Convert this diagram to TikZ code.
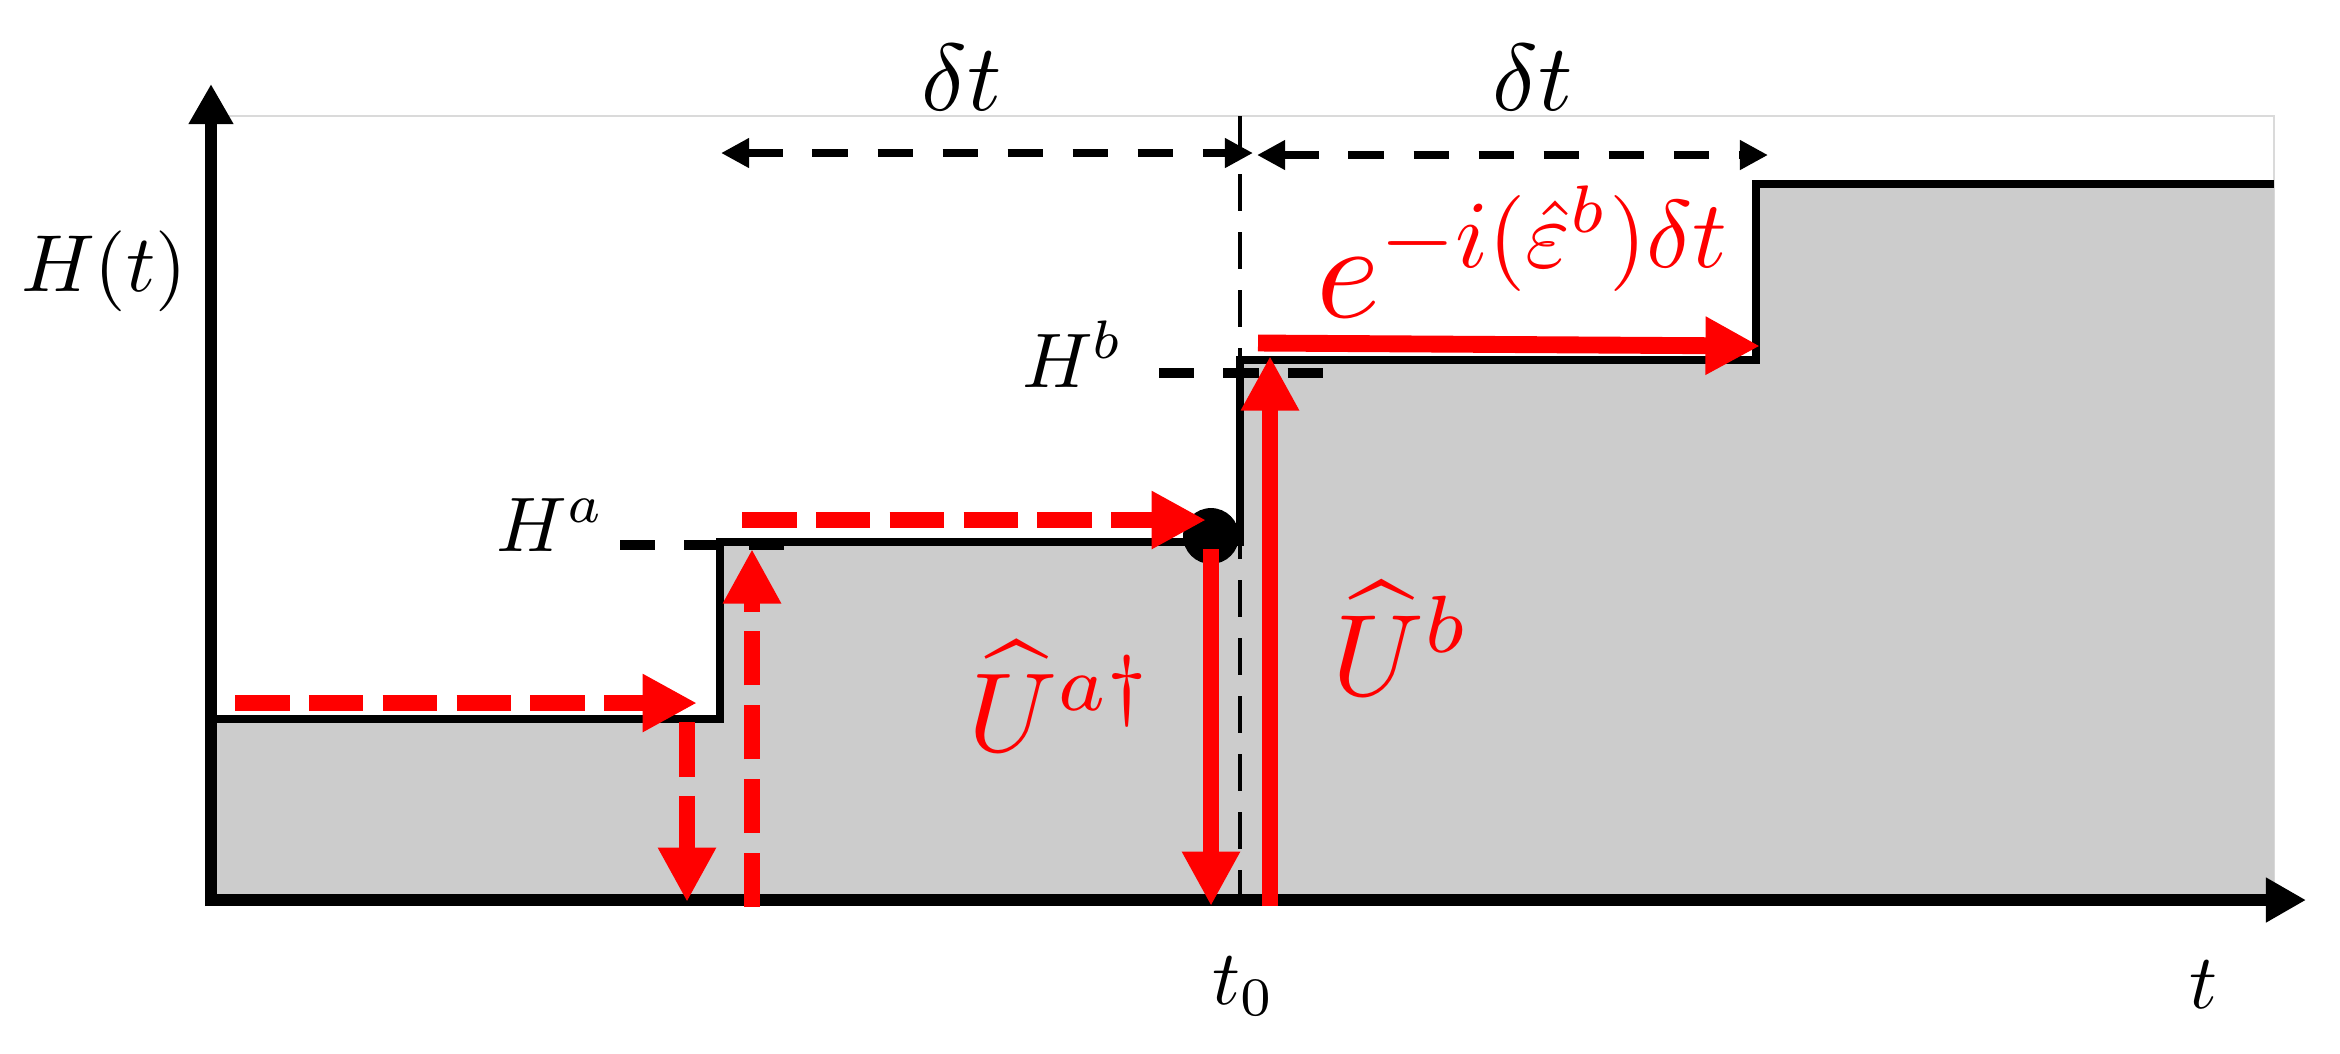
\documentclass[tikz,border=0pt]{standalone}
\usepackage{graphicx}
\usetikzlibrary{arrows.meta}
\definecolor{fillgray}{RGB}{204,204,204}
\definecolor{framegray}{RGB}{218,218,218}
\begin{document}
\begin{tikzpicture}[x=0.01cm,y=-0.01cm,
  redarr/.style={draw=red, line width=4.8pt, -{Triangle[length=15.5pt,width=15.5pt]}},
  reddash/.style={redarr, dash pattern=on 15.5pt off 5.5pt},
  blackdim/.style={line width=2.3pt, dash pattern=on 10pt off 8.5pt,
     {Triangle[length=8pt,width=8pt]}-{Triangle[length=8pt,width=8pt]}},
  leveldash/.style={line width=2.7pt, dash pattern=on 10pt off 8.3pt},
  axis/.style={line width=3.5pt, -{Triangle[length=11.4pt,width=12pt]}},
  lbl/.style={inner sep=0pt, anchor=base},
  redlbl/.style={lbl, text=red},
]
\useasboundingbox (0,0) rectangle (2340,1053);
% frame
\draw[framegray, line width=0.6pt] (211,116) -- (2274,116) -- (2274,900);
% staircase
\coordinate (s0) at (211,719);
\coordinate (s1) at (720,719);
\coordinate (s2) at (720,542);
\coordinate (s3) at (1240,542);
\coordinate (s4) at (1240,360);
\coordinate (s5) at (1756,360);
\coordinate (s6) at (1756,184);
\coordinate (s7) at (2274,184);
\coordinate (s8) at (2274,900);
\coordinate (s9) at (211,900);
\fill[fillgray] (s0) -- (s1) -- (s2) -- (s3) -- (s4) -- (s5) -- (s6) -- (s7) -- (s8) -- (s9) -- cycle;
\draw[line width=2.4pt, line join=miter] (s0) -- (s1) -- (s2) -- (s3) -- (s4) -- (s5) -- (s6) -- (s7);
% t0 guide line
\coordinate (g1) at (1240,116);
\coordinate (g2) at (1240,900);
\draw[line width=1.1pt, dash pattern=on 10.5pt off 6pt] (g1) -- (g2);
% axes
\coordinate (ya) at (211,906);
\coordinate (yb) at (211,84);
\coordinate (xa) at (205,900);
\coordinate (xb) at (2306,900);
\draw[axis] (ya) -- (yb);
\draw[axis] (xa) -- (xb);
% level dashes
\coordinate (ha1) at (620,545);
\coordinate (ha2) at (784,545);
\coordinate (hb1) at (1159,373);
\coordinate (hb2) at (1325,373);
\draw[leveldash] (ha1) -- (ha2);
\draw[leveldash] (hb1) -- (hb2);
% delta t dimension arrows
\coordinate (d1) at (721,153);
\coordinate (d2) at (1253,153);
\coordinate (d3) at (1257,155);
\coordinate (d4) at (1768,155);
\draw[blackdim] (d1) -- (d2);
\draw[blackdim] (d3) -- (d4);
% dot
\node[circle, fill=black, inner sep=0pt, minimum size=15.9pt] (dot) at (1211,536) {};
% red arrows
\coordinate (r1a) at (235,703);
\coordinate (r1b) at (697,703);
\coordinate (r2a) at (687,722);
\coordinate (r2b) at (687,902);
\coordinate (r3a) at (752,907);
\coordinate (r3b) at (752,549);
\coordinate (r4a) at (742,520);
\coordinate (r4b) at (1206,520);
\coordinate (r5a) at (1211,549);
\coordinate (r5b) at (1211,906);
\coordinate (r6a) at (1270,906);
\coordinate (r6b) at (1270,356);
\coordinate (r7a) at (1258,343);
\coordinate (r7b) at (1760,346);
\draw[reddash] (r1a) -- (r1b);
\draw[reddash] (r2a) -- (r2b);
\draw[reddash] (r3a) -- (r3b);
\draw[reddash] (r4a) -- (r4b);
\draw[redarr] (r5a) -- (r5b);
\draw[redarr] (r6a) -- (r6b);
\draw[redarr] (r7a) -- (r7b);
% labels
\node[lbl, scale=2.3] (Ht) at (104,291) {$H(t)$};
\node[lbl, scale=2.7] (dtl) at (962,110) {$\delta t$};
\node[lbl, scale=2.7] (dtr) at (1533,110) {$\delta t$};
\node[lbl, scale=2.2] (Hb) at (1073,387) {$H^b$};
\node[lbl, scale=2.2] (Ha) at (551,551) {$H^a$};
\node[redlbl, scale=3.9, anchor=base west] (ex) at (1314,317)
  {$e^{\scalebox{0.7}{$-i(\hat{\varepsilon}^b)\delta t$}}$};
\node[redlbl, scale=3.2] (Ua) at (1061,751) {$\widehat{U}^{a\dagger}$};
\node[redlbl, scale=3.3] (Ub) at (1402,695) {$\widehat{U}^{b}$};
\node[lbl, scale=2.2] (t0) at (1244,1004) {$t_0$};
\node[lbl, scale=2.2] (t) at (2203,1008) {$t$};
\end{tikzpicture}
\end{document}
